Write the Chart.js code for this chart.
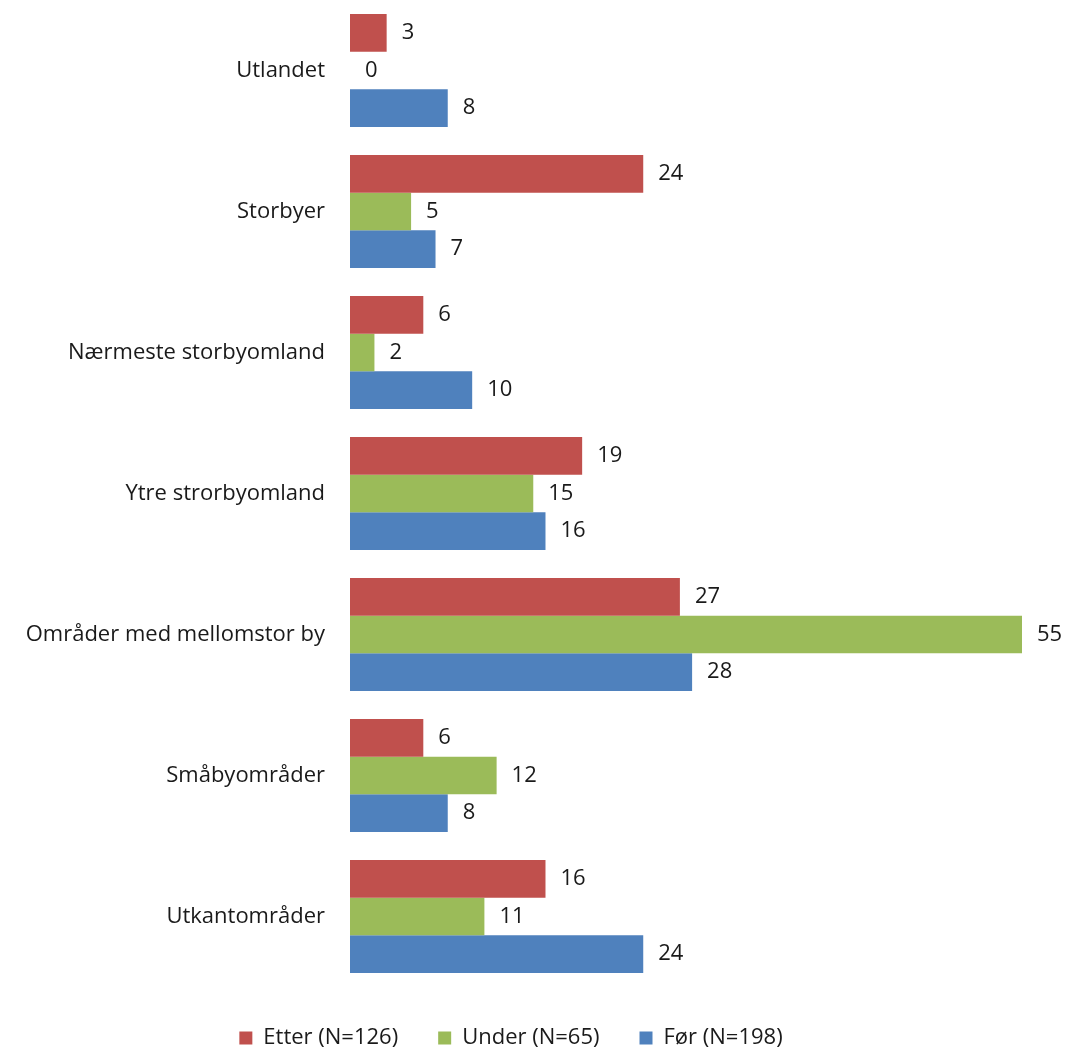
<!DOCTYPE html>
<html>
<head>
<meta charset="utf-8">
<script src="https://cdn.jsdelivr.net/npm/chart.js@4"></script>
<style>
  html, body { margin: 0; padding: 0; background: #fff; }
  #wrap { width: 1074px; height: 1059px; }
</style>
</head>
<body>
<div id="wrap"><canvas id="chart" width="1074" height="1059"></canvas></div>
<script>
(function() {
    var categories = [
        'Utlandet',
        'Storbyer',
        'Nærmeste storbyomland',
        'Ytre strorbyomland',
        'Områder med mellomstor by',
        'Småbyområder',
        'Utkantområder'
    ];
    var etter = [3, 24, 6, 19, 27, 6, 16];
    var under = [0, 5, 2, 15, 55, 12, 11];
    var foer = [8, 7, 10, 16, 28, 8, 24];

    var FONT = '"Open Sans", "Noto Sans", sans-serif';
    var SIZE = 22;

    // tall ved enden av hver stolpe
    var valueLabels = {
        id: 'valueLabels',
        afterDatasetsDraw: function(chart) {
            var ctx = chart.ctx;
            ctx.save();
            ctx.font = SIZE + 'px ' + FONT;
            ctx.fillStyle = '#1a1a1a';
            ctx.textAlign = 'left';
            ctx.textBaseline = 'middle';
            chart.data.datasets.forEach(function(ds, i) {
                var meta = chart.getDatasetMeta(i);
                meta.data.forEach(function(bar, j) {
                    ctx.fillText(String(ds.data[j]), bar.x + 15, bar.y);
                });
            });
            ctx.restore();
        }
    };

    new Chart(document.getElementById('chart'), {
        type: 'bar',
        data: {
            labels: categories,
            datasets: [
                { label: 'Etter (N=126)', data: etter, backgroundColor: '#C0504D' },
                { label: 'Under (N=65)', data: under, backgroundColor: '#9BBB59' },
                { label: 'Før (N=198)', data: foer, backgroundColor: '#4F81BD' }
            ]
        },
        options: {
            indexAxis: 'y',
            responsive: false,
            animation: false,
            layout: { padding: { left: 0, right: 52, top: 0, bottom: 0 } },
            datasets: { bar: { categoryPercentage: 0.8, barPercentage: 1.0 } },
            scales: {
                x: {
                    display: false,
                    min: 0,
                    max: 55
                },
                y: {
                    grid: { display: false },
                    border: { display: false },
                    ticks: {
                        padding: 17,
                        color: '#1a1a1a',
                        font: { family: FONT, size: SIZE }
                    },
                    afterFit: function(scale) {
                        scale.width = 350;
                        scale.paddingTop = 0;
                        scale.paddingBottom = 0;
                    }
                }
            },
            plugins: {
                legend: {
                    position: 'bottom',
                    labels: {
                        boxWidth: 13,
                        boxHeight: 13,
                        padding: 40,
                        color: '#1a1a1a',
                        font: { family: FONT, size: SIZE }
                    }
                },
                tooltip: { enabled: false }
            }
        },
        plugins: [valueLabels]
    });
})();
</script>
</body>
</html>
